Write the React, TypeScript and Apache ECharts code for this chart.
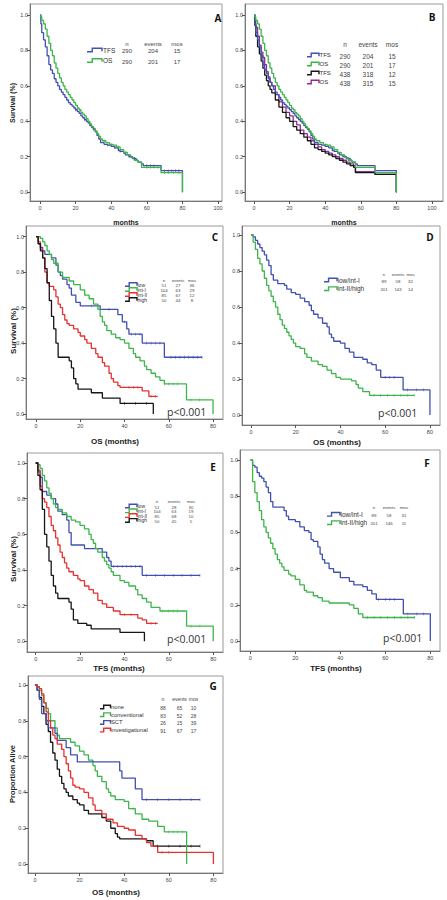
import React, { useEffect, useRef } from "react";
import * as echarts from "echarts";

type Pt = [number, number];

// ---------- Panel A / B : TFS & OS (n=290) ----------
const A_TFS: Pt[] = [[0,1],[0.5,0.95],[1,0.9],[2,0.86],[3,0.82],[4,0.77],[5,0.72],[6,0.69],[7,0.67],[8,0.64],[9,0.62],[10,0.6],[11,0.58],[12,0.565],[13,0.55],[14,0.535],[15,0.52],[16,0.505],[17,0.495],[18,0.485],[19,0.475],[20,0.465],[21,0.455],[22,0.445],[23,0.43],[24,0.42],[25,0.41],[26,0.4],[27,0.39],[28,0.375],[29,0.365],[30,0.355],[31,0.34],[32,0.32],[33,0.3],[34,0.28],[36,0.27],[38,0.265],[40,0.258],[42,0.25],[44,0.235],[45,0.23],[47,0.22],[48,0.21],[50,0.2],[52,0.19],[54,0.18],[55,0.17],[57,0.16],[58,0.15],[68,0.122],[80,0]];
const A_OS: Pt[] = [[0,1],[0.5,0.99],[1,0.97],[2,0.95],[3,0.92],[4,0.88],[5,0.84],[6,0.8],[7,0.77],[8,0.73],[9,0.7],[10,0.67],[11,0.645],[12,0.62],[13,0.6],[14,0.58],[15,0.565],[16,0.55],[17,0.535],[18,0.52],[19,0.505],[20,0.49],[21,0.475],[22,0.465],[23,0.45],[24,0.44],[25,0.43],[26,0.415],[27,0.4],[28,0.385],[29,0.37],[30,0.36],[31,0.345],[32,0.33],[33,0.315],[34,0.3],[35,0.29],[37,0.28],[39,0.27],[41,0.265],[43,0.255],[45,0.24],[47,0.225],[49,0.21],[51,0.195],[53,0.18],[55,0.17],[57,0.14],[68,0.11],[80,0]];
const A_TFS_cens = [20,25,30,38,42,45,50,53,60,62,64,70,72,74,76,78];
const A_OS_cens = [22,28,36,40,44,48,52,60,62,64,66,70,72,75,78];
const B_TFS438: Pt[] = [[0,1],[0.5,0.94],[1,0.88],[2,0.82],[3,0.78],[4,0.74],[5,0.7],[6,0.66],[7,0.63],[8,0.6],[9,0.58],[10,0.56],[12,0.52],[14,0.48],[16,0.45],[18,0.42],[20,0.4],[22,0.37],[24,0.35],[26,0.33],[28,0.31],[30,0.29],[32,0.27],[34,0.25],[36,0.24],[38,0.23],[40,0.22],[42,0.21],[44,0.2],[46,0.19],[48,0.18],[50,0.17],[52,0.16],[54,0.15],[56,0.14],[57,0.11],[68,0.1],[80,0]];
const B_OS438: Pt[] = [[0,1],[0.5,0.97],[1,0.93],[2,0.88],[3,0.83],[4,0.79],[5,0.76],[6,0.72],[7,0.68],[8,0.65],[9,0.62],[10,0.6],[12,0.55],[14,0.51],[16,0.48],[18,0.45],[20,0.43],[22,0.4],[24,0.38],[26,0.35],[28,0.33],[30,0.31],[32,0.29],[34,0.27],[36,0.255],[38,0.24],[40,0.23],[42,0.22],[44,0.21],[46,0.2],[48,0.19],[50,0.18],[52,0.17],[54,0.16],[56,0.15],[57,0.115],[68,0.1],[80,0]];

// ---------- Panel C : OS by risk group ----------
const C_low: Pt[] = [[0,1],[1,0.96],[2,0.94],[3,0.92],[4,0.9],[7,0.88],[9,0.84],[10,0.8],[11,0.78],[12,0.76],[14,0.73],[15,0.71],[16,0.67],[18,0.63],[20,0.61],[29,0.59],[37,0.56],[39,0.52],[41,0.48],[42,0.45],[48,0.4],[58,0.32],[75,0.32]];
const C_intI: Pt[] = [[0,1],[2,0.99],[3,0.97],[4,0.95],[5,0.92],[6,0.9],[7,0.87],[8,0.85],[10,0.8],[12,0.77],[15,0.75],[17,0.73],[20,0.7],[22,0.67],[24,0.65],[26,0.62],[28,0.59],[29,0.55],[30,0.52],[31,0.5],[32,0.47],[34,0.45],[36,0.43],[38,0.42],[40,0.4],[42,0.37],[44,0.34],[45,0.32],[47,0.3],[49,0.27],[50,0.25],[52,0.23],[54,0.21],[56,0.19],[58,0.17],[68,0.08],[80,0]];
const C_intII: Pt[] = [[0,1],[1,0.97],[2,0.93],[3,0.88],[4,0.8],[5,0.74],[6,0.72],[8,0.7],[9,0.66],[10,0.62],[11,0.6],[12,0.56],[13,0.53],[14,0.51],[15,0.5],[17,0.48],[19,0.46],[20,0.44],[22,0.42],[23,0.4],[25,0.37],[27,0.34],[28,0.32],[30,0.29],[31,0.27],[33,0.23],[34,0.2],[35,0.18],[37,0.16],[38,0.15],[48,0.13],[51,0.1],[55,0.1]];
const C_high: Pt[] = [[0,1],[1,0.96],[2,0.92],[3,0.88],[4,0.82],[5,0.74],[6,0.64],[7,0.55],[8,0.48],[9,0.4],[10,0.32],[15,0.3],[16,0.26],[17,0.2],[18,0.17],[19,0.14],[25,0.12],[30,0.09],[38,0.06],[53,0]];
const C_low_cens = [25,33,40,43,45,47,50,52,54,56,61,63,65,67,69,71,73,75];
const C_intI_cens = [58,60,62,64,70,74];
const C_intII_cens = [42,44,46,52,54];
const C_high_cens = [40,45,50];

// ---------- Panel D : OS, two groups ----------
const D_low: Pt[] = [[0,1],[1,0.99],[2,0.97],[3,0.95],[4,0.93],[5,0.91],[6,0.89],[7,0.86],[8,0.83],[9,0.78],[10,0.75],[12,0.73],[15,0.72],[16,0.7],[18,0.68],[20,0.67],[22,0.65],[24,0.63],[26,0.61],[27,0.58],[28,0.56],[30,0.54],[32,0.51],[34,0.49],[35,0.45],[36,0.43],[37,0.41],[40,0.4],[42,0.37],[44,0.35],[46,0.32],[50,0.31],[52,0.29],[54,0.28],[56,0.25],[58,0.21],[68,0.14],[80,0]];
const D_high: Pt[] = [[0,1],[1,0.96],[2,0.92],[3,0.87],[4,0.84],[5,0.8],[6,0.76],[7,0.72],[8,0.69],[9,0.66],[10,0.63],[11,0.6],[12,0.56],[13,0.53],[14,0.5],[15,0.48],[16,0.46],[17,0.44],[18,0.42],[19,0.4],[20,0.38],[22,0.37],[24,0.34],[25,0.32],[27,0.3],[30,0.28],[32,0.27],[34,0.25],[36,0.23],[38,0.21],[40,0.2],[45,0.19],[47,0.17],[48,0.15],[50,0.13],[53,0.11],[73,0.11]];
const D_low_cens = [60,62,64,70,74,77];
const D_high_cens = [55,58,61,64,67,70,73];

// ---------- Panel E : TFS by risk group ----------
const E_low: Pt[] = [[0,1],[1,0.96],[2,0.92],[3,0.84],[5,0.82],[7,0.8],[9,0.77],[10,0.73],[12,0.71],[14,0.68],[15,0.61],[16,0.54],[22,0.52],[30,0.5],[32,0.47],[33,0.45],[34,0.42],[48,0.37],[74,0.37]];
const E_intI: Pt[] = [[0,1],[1,0.99],[2,0.97],[3,0.93],[4,0.9],[5,0.86],[6,0.83],[7,0.8],[8,0.77],[9,0.75],[10,0.74],[12,0.72],[14,0.7],[16,0.68],[18,0.67],[20,0.65],[22,0.63],[24,0.6],[25,0.57],[26,0.55],[27,0.52],[28,0.5],[30,0.47],[31,0.45],[32,0.43],[33,0.41],[34,0.39],[35,0.37],[38,0.34],[40,0.33],[42,0.31],[45,0.29],[46,0.26],[48,0.24],[50,0.22],[52,0.19],[56,0.17],[68,0.085],[80,0]];
const E_intII: Pt[] = [[0,1],[1,0.95],[2,0.87],[3,0.8],[4,0.78],[5,0.75],[6,0.7],[7,0.65],[8,0.62],[9,0.58],[10,0.54],[11,0.5],[12,0.47],[13,0.44],[14,0.41],[15,0.39],[17,0.37],[19,0.35],[20,0.34],[22,0.31],[24,0.29],[26,0.27],[28,0.23],[30,0.21],[32,0.19],[35,0.17],[38,0.15],[46,0.13],[48,0.12],[50,0.1],[55,0.1]];
const E_high: Pt[] = [[0,1],[1,0.93],[2,0.85],[3,0.74],[4,0.6],[5,0.53],[6,0.45],[7,0.37],[8,0.31],[9,0.27],[10,0.24],[15,0.22],[16,0.18],[17,0.12],[19,0.1],[23,0.09],[25,0.07],[38,0.05],[49,0]];
const E_low_cens = [35,37,39,41,43,45,47,50,54,58,62,66,70,74];
const E_intI_cens = [57,60,62,64,70,74];
const E_intII_cens = [40,43,52,54];

// ---------- Panel F : TFS, two groups ----------
const F_low: Pt[] = [[0,1],[1,0.97],[2,0.96],[3,0.93],[4,0.91],[5,0.9],[6,0.88],[7,0.85],[8,0.82],[9,0.77],[10,0.74],[15,0.72],[16,0.69],[17,0.67],[20,0.66],[22,0.63],[24,0.61],[26,0.6],[27,0.56],[28,0.55],[30,0.52],[31,0.48],[32,0.45],[33,0.43],[35,0.4],[37,0.38],[40,0.35],[44,0.33],[46,0.31],[50,0.3],[52,0.28],[54,0.26],[56,0.23],[68,0.15],[80,0]];
const F_high: Pt[] = [[0,1],[1,0.88],[2,0.82],[3,0.77],[4,0.72],[5,0.67],[6,0.63],[7,0.6],[8,0.57],[9,0.54],[10,0.51],[11,0.48],[12,0.45],[13,0.43],[14,0.41],[15,0.39],[17,0.37],[18,0.36],[20,0.34],[22,0.31],[24,0.28],[25,0.27],[28,0.25],[30,0.24],[32,0.22],[35,0.21],[44,0.2],[46,0.18],[48,0.15],[50,0.13],[73,0.13]];
const F_low_cens = [57,60,62,64,70,74,77];
const F_high_cens = [52,55,58,61,64,67,70,73];

// ---------- Panel G : OS by treatment ----------
const G_none: Pt[] = [[0,1],[1,0.97],[2,0.93],[3,0.88],[4,0.84],[5,0.78],[6,0.74],[7,0.68],[8,0.62],[9,0.58],[10,0.53],[11,0.49],[12,0.45],[13,0.42],[14,0.4],[15,0.38],[17,0.36],[19,0.34],[20,0.33],[22,0.3],[24,0.28],[30,0.26],[32,0.24],[34,0.2],[36,0.17],[37,0.15],[38,0.14],[50,0.13],[53,0.1],[74,0.1]];
const G_conv: Pt[] = [[0,1],[1,0.99],[2,0.97],[3,0.94],[4,0.9],[5,0.87],[6,0.84],[7,0.8],[9,0.76],[10,0.72],[11,0.7],[16,0.68],[18,0.66],[20,0.63],[22,0.61],[24,0.58],[26,0.55],[27,0.52],[28,0.49],[30,0.46],[32,0.42],[33,0.4],[34,0.38],[36,0.36],[40,0.35],[42,0.31],[45,0.28],[48,0.25],[51,0.24],[55,0.21],[58,0.18],[68,0]];
const G_sct: Pt[] = [[0,1],[1,0.97],[2,0.92],[3,0.84],[5,0.8],[6,0.76],[9,0.73],[10,0.69],[14,0.65],[16,0.61],[19,0.57],[38,0.52],[39,0.48],[45,0.42],[48,0.36],[74,0.36]];
const G_inv: Pt[] = [[0,1],[1,0.99],[2,0.98],[3,0.95],[4,0.9],[5,0.85],[6,0.8],[7,0.76],[8,0.72],[9,0.7],[10,0.67],[12,0.64],[13,0.6],[14,0.56],[15,0.52],[16,0.48],[17,0.44],[18,0.43],[20,0.42],[22,0.4],[24,0.37],[26,0.33],[27,0.3],[30,0.28],[32,0.25],[35,0.23],[37,0.21],[40,0.2],[42,0.19],[45,0.16],[48,0.14],[50,0.12],[52,0.1],[55,0.065],[80,0]];
const G_none_cens = [55,60,65,70,74];
const G_conv_cens = [44,60,62,64,66];
const G_sct_cens = [50,55,60,65,70,74];
const G_inv_cens = [57,60];

// ---------- Legend tables ----------
const A_labels = ["TFS", "OS"]; const A_n = [290, 290]; const A_events = [204, 201]; const A_mos = [15, 17];
const B_labels = ["TFS", "OS", "TFS", "OS"]; const B_n = [290, 290, 438, 438]; const B_events = [204, 201, 318, 315]; const B_mos = [15, 17, 12, 15];
const C_labels = ["low", "int-I", "int-II", "high"]; const C_n = [51, 104, 85, 50]; const C_events = [27, 63, 67, 44]; const C_mos = [36, 29, 12, 8];
const D_labels = ["low/int-I", "int-II/high"]; const D_n = [89, 201]; const D_events = [58, 143]; const D_mos = [32, 14];
const E_labels = ["low", "int-I", "int-II", "high"]; const E_n = [51, 104, 85, 50]; const E_events = [28, 63, 68, 45]; const E_mos = [30, 19, 10, 5];
const F_labels = ["low/int-I", "int-II/high"]; const F_n = [89, 201]; const F_events = [58, 146]; const F_mos = [31, 11];
const G_labels = ["none", "conventional", "SCT", "investigational"]; const G_n = [88, 83, 26, 91]; const G_events = [65, 52, 15, 67]; const G_mos = [10, 28, 39, 17];

const X_TICKS_100 = [0, 20, 40, 60, 80, 100];
const X_TICKS_80 = [0, 20, 40, 60, 80];
const Y_TICKS = [0, 0.2, 0.4, 0.6, 0.8, 1.0];

const BLUE = "#4150b0";
const GREEN = "#3db54a";
const RED = "#e5322f";
const BLACK = "#161616";
const PURPLE = "#8f2b8e";

const FONT = "'Liberation Sans', Arial, sans-serif";

function stepAt(data: Pt[], t: number): number {
  let v = data[0][1];
  for (const [x, y] of data) {
    if (x <= t) v = y;
    else break;
  }
  return v;
}

type Curve = { data: Pt[]; color: string; cens?: number[] };
type Legend = {
  labels: string[]; n: number[]; ev: number[]; mos: number[]; colors: string[];
  ix0: number; ix1: number; lx: number; y0: number; dy: number; hy: number; cols: number[];
  lf: number; nf: number;
};
type Panel = {
  letter: string; lx: number; ly: number;
  left: number; top: number; width: number; height: number;
  xmin: number; xmax: number; ymin: number; ymax: number; xTicks: number[];
  curves: Curve[]; legend: Legend;
  xTitle: string; xtx: number; xty: number; xtf: number;
  yTitle?: string; ytx?: number; yty?: number; ytf?: number;
  p?: [number, number];
};

const panels: Panel[] = [
  {
    letter: "A", lx: 218, ly: 18, left: 30, top: 4, width: 192, height: 197,
    xmin: -5.6, xmax: 102.2, ymin: -0.05, ymax: 1.062, xTicks: X_TICKS_100,
    curves: [
      { data: A_TFS, color: BLUE, cens: A_TFS_cens },
      { data: A_OS, color: GREEN, cens: A_OS_cens },
    ],
    legend: { labels: A_labels, n: A_n, ev: A_events, mos: A_mos, colors: [BLUE, GREEN],
      ix0: 87, ix1: 102, lx: 103, y0: 50, dy: 10.5, hy: 43.5, cols: [127, 153, 177], lf: 6.5, nf: 6 },
    xTitle: "months", xtx: 126, xty: 222, xtf: 7,
    yTitle: "Survival (%)", ytx: 12, yty: 103, ytf: 7,
  },
  {
    letter: "B", lx: 432, ly: 17, left: 245, top: 4, width: 198, height: 197,
    xmin: -5.06, xmax: 106.2, ymin: -0.05, ymax: 1.062, xTicks: X_TICKS_100,
    curves: [
      { data: B_OS438, color: PURPLE },
      { data: B_TFS438, color: BLACK },
      { data: A_TFS, color: BLUE },
      { data: A_OS, color: GREEN },
    ],
    legend: { labels: B_labels, n: B_n, ev: B_events, mos: B_mos, colors: [BLUE, GREEN, BLACK, PURPLE],
      ix0: 307, ix1: 319, lx: 319.5, y0: 55, dy: 9, hy: 44, cols: [345, 368, 392], lf: 6, nf: 6.5 },
    xTitle: "months", xtx: 344, xty: 222, xtf: 7,
  },
  {
    letter: "C", lx: 215, ly: 237, left: 26, top: 226, width: 197, height: 193,
    xmin: -4.52, xmax: 84.5, ymin: -0.028, ymax: 1.06, xTicks: X_TICKS_80,
    curves: [
      { data: C_low, color: BLUE, cens: C_low_cens },
      { data: C_intI, color: GREEN, cens: C_intI_cens },
      { data: C_intII, color: RED, cens: C_intII_cens },
      { data: C_high, color: BLACK, cens: C_high_cens },
    ],
    legend: { labels: C_labels, n: C_n, ev: C_events, mos: C_mos, colors: [BLUE, GREEN, RED, BLACK],
      ix0: 125, ix1: 137, lx: 137.5, y0: 284.5, dy: 5, hy: 280, cols: [164, 178, 192], lf: 5, nf: 4.3 },
    xTitle: "OS (months)", xtx: 115, xty: 441, xtf: 8,
    yTitle: "Survival (%)", ytx: 13, yty: 331, ytf: 8,
    p: [167, 412],
  },
  {
    letter: "D", lx: 430, ly: 237, left: 242, top: 226, width: 198, height: 199,
    xmin: -4.0, xmax: 84.5, ymin: -0.055, ymax: 1.05, xTicks: X_TICKS_80,
    curves: [
      { data: D_low, color: BLUE, cens: D_low_cens },
      { data: D_high, color: GREEN, cens: D_high_cens },
    ],
    legend: { labels: D_labels, n: D_n, ev: D_events, mos: D_mos, colors: [BLUE, GREEN],
      ix0: 324, ix1: 337, lx: 337.5, y0: 280, dy: 8.7, hy: 274, cols: [384, 398, 410.5], lf: 6.5, nf: 4.3 },
    xTitle: "OS (months)", xtx: 337, xty: 442, xtf: 8,
    p: [378, 413],
  },
  {
    letter: "E", lx: 213, ly: 467, left: 27, top: 453, width: 196, height: 199,
    xmin: -3.9, xmax: 84.4, ymin: -0.06, ymax: 1.056, xTicks: X_TICKS_80,
    curves: [
      { data: E_low, color: BLUE, cens: E_low_cens },
      { data: E_intI, color: GREEN, cens: E_intI_cens },
      { data: E_intII, color: RED, cens: E_intII_cens },
      { data: E_high, color: BLACK },
    ],
    legend: { labels: E_labels, n: E_n, ev: E_events, mos: E_mos, colors: [BLUE, GREEN, RED, BLACK],
      ix0: 125, ix1: 137, lx: 137.5, y0: 506, dy: 4.8, hy: 501.5, cols: [157, 174, 191], lf: 5, nf: 4.3 },
    xTitle: "TFS (months)", xtx: 119, xty: 668, xtf: 8,
    yTitle: "Survival (%)", ytx: 13, yty: 559, ytf: 8,
    p: [167, 639],
  },
  {
    letter: "F", lx: 427, ly: 463, left: 240, top: 450, width: 200, height: 201,
    xmin: -4.6, xmax: 84.3, ymin: -0.055, ymax: 1.055, xTicks: X_TICKS_80,
    curves: [
      { data: F_low, color: BLUE, cens: F_low_cens },
      { data: F_high, color: GREEN, cens: F_high_cens },
    ],
    legend: { labels: F_labels, n: F_n, ev: F_events, mos: F_mos, colors: [BLUE, GREEN],
      ix0: 327, ix1: 340, lx: 340.5, y0: 514.3, dy: 8.4, hy: 507.5, cols: [374, 389, 404], lf: 6.5, nf: 4.3 },
    xTitle: "TFS (months)", xtx: 336, xty: 668, xtf: 8,
    p: [383, 638],
  },
  {
    letter: "G", lx: 213, ly: 686, left: 28, top: 676, width: 195, height: 197,
    xmin: -3.1, xmax: 84.3, ymin: -0.05, ymax: 1.05, xTicks: X_TICKS_80,
    curves: [
      { data: G_none, color: BLACK, cens: G_none_cens },
      { data: G_conv, color: GREEN, cens: G_conv_cens },
      { data: G_sct, color: BLUE, cens: G_sct_cens },
      { data: G_inv, color: RED, cens: G_inv_cens },
    ],
    legend: { labels: G_labels, n: G_n, ev: G_events, mos: G_mos, colors: [BLACK, GREEN, BLUE, RED],
      ix0: 100, ix1: 110.5, lx: 111, y0: 707, dy: 7.7, hy: 698.5, cols: [163, 179.5, 193.5], lf: 5.8, nf: 5 },
    xTitle: "OS (months)", xtx: 116, xty: 892, xtf: 8,
    yTitle: "Proportion Alive", ytx: 12, yty: 774, ytf: 7.5,
  },
];

function txt(text: string, x: number, y: number, size: number, opts: any = {}) {
  const align = opts.align || "left";
  return {
    type: "text",
    x, y,
    rotation: opts.rotation || 0,
    z: 100,
    silent: true,
    style: {
      text,
      fill: opts.fill || "#333",
      font: `${opts.weight || "normal"} ${size}px ${opts.family || FONT}`,
      align, textAlign: align,
      verticalAlign: "middle", textVerticalAlign: "middle",
    },
  };
}

function buildOption() {
  const grid: any[] = [];
  const xAxis: any[] = [];
  const yAxis: any[] = [];
  const series: any[] = [];
  const graphic: any[] = [];

  panels.forEach((p, i) => {
    grid.push({
      left: p.left, top: p.top, width: p.width, height: p.height,
      show: true, borderColor: "#9a9a9a", borderWidth: 1, backgroundColor: "transparent",
      containLabel: false,
    });
    xAxis.push({
      gridIndex: i, type: "value", min: p.xmin, max: p.xmax,
      axisLine: { show: true, onZero: false, lineStyle: { color: "#777", width: 1 } },
      axisTick: { show: true, customValues: p.xTicks, length: 3, lineStyle: { color: "#555" } },
      axisLabel: { customValues: p.xTicks, fontSize: 5.5, color: "#444", margin: 4, fontFamily: FONT },
      splitLine: { show: false },
    });
    yAxis.push({
      gridIndex: i, type: "value", min: p.ymin, max: p.ymax,
      axisLine: { show: true, onZero: false, lineStyle: { color: "#777", width: 1 } },
      axisTick: { show: true, customValues: Y_TICKS, length: 3, lineStyle: { color: "#555" } },
      axisLabel: {
        customValues: Y_TICKS, fontSize: 5.5, color: "#444", margin: 2, fontFamily: FONT,
        formatter: (v: number) => v.toFixed(1),
      },
      splitLine: { show: false },
    });
    p.curves.forEach((c) => {
      series.push({
        type: "line", xAxisIndex: i, yAxisIndex: i, data: c.data, step: "end",
        symbol: "none", showSymbol: false, silent: true,
        lineStyle: { color: c.color, width: 1.3 }, z: 3,
      });
      if (c.cens && c.cens.length) {
        series.push({
          type: "scatter", xAxisIndex: i, yAxisIndex: i, silent: true,
          data: c.cens.map((t) => [t, stepAt(c.data, t)]),
          symbol: "rect", symbolSize: [0.7, 2.8],
          itemStyle: { color: c.color, opacity: 0.8 }, z: 4,
        });
      }
    });

    graphic.push(txt(p.letter, p.lx, p.ly, 10, { weight: "bold", fill: "#111", align: "center", family: "'Open Sans', sans-serif" }));
    graphic.push(txt(p.xTitle, p.xtx, p.xty, p.xtf, { weight: "bold", fill: "#222", align: "center" }));
    if (p.yTitle) {
      graphic.push(txt(p.yTitle, p.ytx!, p.yty!, p.ytf!, { weight: "bold", fill: "#222", align: "center", rotation: Math.PI / 2 }));
    }
    if (p.p) {
      graphic.push(txt("p<0.001", p.p[0], p.p[1], 10.5, { fill: "#333", family: "'Open Sans', sans-serif" }));
    }
    const L = p.legend;
    graphic.push(txt("n", L.cols[0], L.hy, L.nf, { align: "center", fill: "#444" }));
    graphic.push(txt("events", L.cols[1], L.hy, L.nf, { align: "center", fill: "#444" }));
    graphic.push(txt("mos", L.cols[2], L.hy, L.nf, { align: "center", fill: "#444" }));
    L.labels.forEach((lab, k) => {
      const y = L.y0 + k * L.dy;
      const w = L.ix1 - L.ix0;
      const h = Math.min(3.6, L.dy * 0.75);
      graphic.push({
        type: "polyline", z: 100, silent: true,
        shape: {
          points: [
            [L.ix0, y + h / 2], [L.ix0 + w * 0.35, y + h / 2], [L.ix0 + w * 0.35, y - h / 2],
            [L.ix1, y - h / 2], [L.ix1, y + h / 3],
          ],
        },
        style: { stroke: L.colors[k], lineWidth: 1.4, fill: null },
      });
      graphic.push(txt(lab, L.lx, y, L.lf, { fill: "#333" }));
      graphic.push(txt(String(L.n[k]), L.cols[0], y + 1, L.nf, { align: "center", fill: "#444" }));
      graphic.push(txt(String(L.ev[k]), L.cols[1], y + 1, L.nf, { align: "center", fill: "#444" }));
      graphic.push(txt(String(L.mos[k]), L.cols[2], y + 1, L.nf, { align: "center", fill: "#444" }));
    });
  });

  return {
    animation: false,
    backgroundColor: "#ffffff",
    grid, xAxis, yAxis, series, graphic,
  };
}

export default function App() {
  const ref = useRef<HTMLDivElement>(null);
  useEffect(() => {
    if (!ref.current) return;
    const chart = echarts.init(ref.current, undefined, { renderer: "svg" });
    chart.setOption(buildOption() as any);
    return () => chart.dispose();
  }, []);
  return (
    <div
      ref={ref}
      style={{ position: "absolute", left: 0, top: 0, width: 447, height: 900, background: "#fff" }}
    />
  );
}
